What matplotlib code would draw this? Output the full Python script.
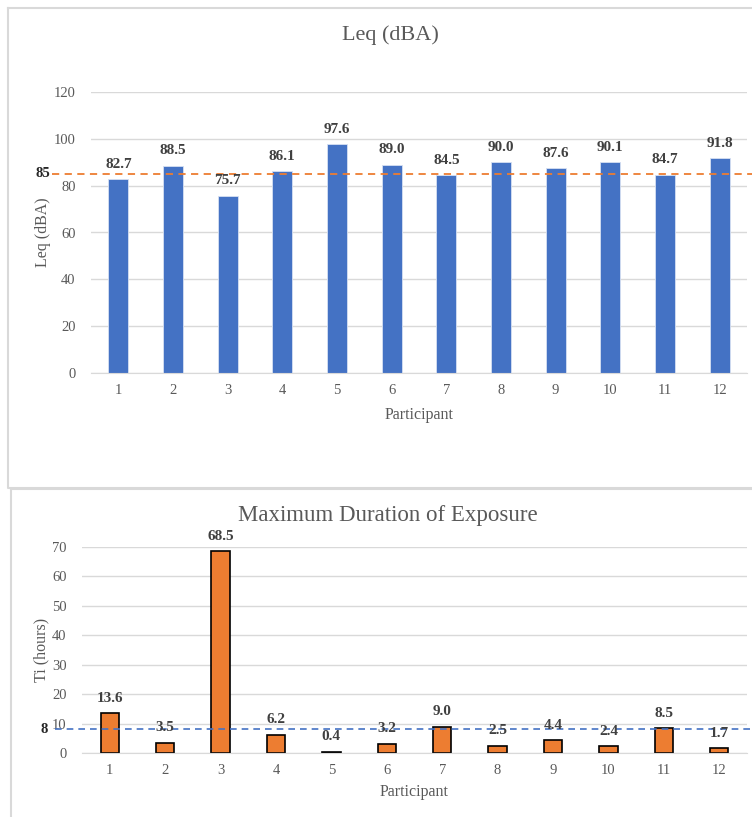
import numpy as np
import matplotlib.pyplot as plt
from matplotlib.lines import Line2D

participants = [str(i) for i in range(1, 13)]
leq = [82.7, 88.5, 75.7, 86.1, 97.6, 89.0, 84.5, 90.0, 87.6, 90.1, 84.7, 91.8]
ti_hours = [13.6, 3.5, 68.5, 6.2, 0.4, 3.2, 9.0, 2.5, 4.4, 2.4, 8.5, 1.7]
leq_limit = 85
ti_limit = 8

plt.rcParams['font.family'] = ['Liberation Serif', 'DejaVu Serif']

W, H = 752, 817
fig = plt.figure(figsize=(W / 100, H / 100), dpi=100)

def fx(px):
    return px / W

def fy(py):
    return 1 - py / H

grid_c = '#D9D9D9'
text_c = '#595959'
label_c = '#404040'

# panel borders
for (x0, y0, x1, y1) in [(8, 8, 760, 488), (11, 489, 760, 830)]:
    fig.add_artist(Line2D([fx(x0), fx(x1), fx(x1), fx(x0), fx(x0)],
                          [fy(y0), fy(y0), fy(y1), fy(y1), fy(y0)],
                          color=grid_c, lw=1.5))

def style(ax, ymax, step):
    ax.set_ylim(0, ymax)
    ax.set_xlim(-0.5, 11.5)
    ax.set_yticks(np.arange(0, ymax + 1, step))
    ax.set_xticks(range(12))
    ax.set_xticklabels(participants)
    ax.yaxis.grid(True, color=grid_c, lw=1)
    ax.set_axisbelow(True)
    for s in ['top', 'right', 'left']:
        ax.spines[s].set_visible(False)
    ax.spines['bottom'].set_color(grid_c)
    ax.tick_params(length=0, colors=text_c, labelsize=10.5)
    ax.tick_params(axis='x', pad=8)
    ax.tick_params(axis='y', pad=11)

def value_labels(ax, vals):
    for xi, v in enumerate(vals):
        ax.annotate(f'{v:.1f}', (xi, v), xytext=(0, 6), textcoords='offset points',
                    ha='center', va='bottom', fontsize=11, fontweight='bold',
                    color=label_c)

# Leq chart
ax1 = fig.add_axes([fx(91), fy(373), fx(747) - fx(91), fy(92) - fy(373)])
x = np.arange(12)
ax1.bar(x, leq, width=0.36, color='#4472C4', edgecolor='#D6E0F2', lw=0.6)
style(ax1, 120, 20)
value_labels(ax1, leq)
ax1.axhline(leq_limit, xmin=-0.06, xmax=1.01, color='#ED7D31', ls=(0, (4, 3)),
            lw=1.3, clip_on=False)
ax1.text(-0.073, leq_limit, f'{leq_limit}', transform=ax1.get_yaxis_transform(),
         ha='center', va='center', fontsize=10.5, fontweight='bold', color='#262626')
ax1.set_xlabel('Participant', fontsize=11.5, color=text_c, labelpad=7)
ax1.set_ylabel('Leq (dBA)', fontsize=11.5, color=text_c, labelpad=2)
fig.text(fx(390), fy(35), 'Leq (dBA)', ha='center', va='center', fontsize=16, color=text_c)

# Maximum duration chart
ax2 = fig.add_axes([fx(82), fy(753), fx(747) - fx(82), fy(547) - fy(753)])
ax2.bar(x, ti_hours, width=0.33, color='#ED7D31', edgecolor='black', lw=1.2)
style(ax2, 70, 10)
value_labels(ax2, ti_hours)
ax2.axhline(ti_limit, xmin=-0.04, xmax=1.01, color='#4472C4', ls=(0, (4, 3)),
            lw=1.2, clip_on=False)
ax2.text(-0.057, ti_limit, f'{ti_limit}', transform=ax2.get_yaxis_transform(),
         ha='center', va='center', fontsize=10.5, fontweight='bold', color='#262626')
ax2.set_xlabel('Participant', fontsize=11.5, color=text_c, labelpad=5)
ax2.set_ylabel('Ti (hours)', fontsize=11.5, color=text_c, labelpad=2)
fig.text(fx(388), fy(516), 'Maximum Duration of Exposure', ha='center', va='center',
         fontsize=16.5, color=text_c)

fig.savefig('out.png', dpi=100)
